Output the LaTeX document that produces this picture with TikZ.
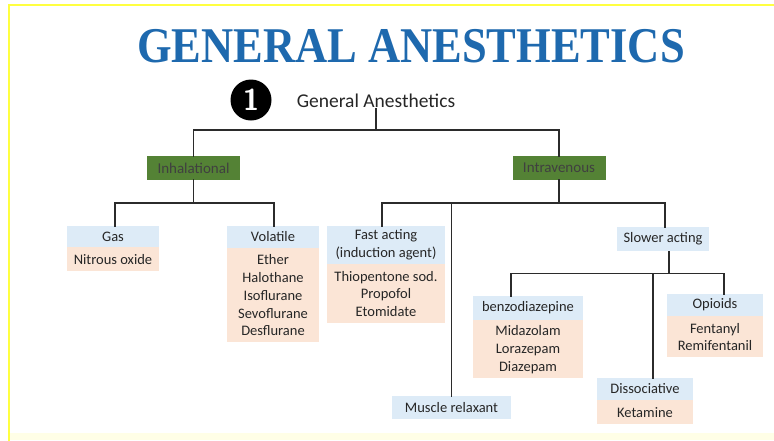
\documentclass[tikz,border=0pt]{standalone}
\usepackage{fontspec}
\setmainfont{Carlito}
\newfontfamily\titlefont{Liberation Serif}
\usetikzlibrary{positioning,calc}

\definecolor{titleBlue}{HTML}{1E69AE}
\definecolor{hdBlue}{HTML}{DDEBF7}
\definecolor{lstPeach}{HTML}{FBE5D6}
\definecolor{grnFill}{HTML}{548235}
\definecolor{lineGrey}{HTML}{2B2B2B}
\definecolor{txtGrey}{HTML}{262626}
\definecolor{frameYellow}{HTML}{FFFF40}

\begin{document}
\begin{tikzpicture}[
		x=1pt,
		y=-1pt,
		line cap=rect,
		line join=miter,
		box/.style={inner sep=0pt, align=center, text=txtGrey,
			font=\fontsize{14.5}{17.75}\selectfont},
		hd/.style={box, fill=hdBlue},
		lst/.style={box, fill=lstPeach},
		grn/.style={box, fill=grnFill, text=black!75,
			font=\fontsize{15}{18}\selectfont,
			minimum width=93pt, minimum height=23.5pt},
		link/.style={draw=lineGrey, line width=1.4pt}
		]
		
		%------------------------------------------------------------------
		% Page and frame
		%------------------------------------------------------------------
		\useasboundingbox (0,0) rectangle (774,440);
		\fill[white] (0,0) rectangle (774,440);
		\fill[yellow!10] (9,433) rectangle (774,440);
		\draw[frameYellow, line width=2.6pt] (9,440) -- (9,5) -- (774,5);
		
		%------------------------------------------------------------------
		% Title and root
		%------------------------------------------------------------------
		\node[text=titleBlue, font=\titlefont\bfseries\fontsize{50}{52}\selectfont]
		(title) at (411,46) {\scalebox{0.89}[1]{GENERAL ANESTHETICS}};
		
		\node[circle, fill=black, minimum size=41pt, inner sep=0pt,
		text=white, font=\sffamily\bfseries\fontsize{30}{30}\selectfont]
		(one) at (251,100) {1};
		
		\node[text=txtGrey, font=\fontsize{19.5}{22}\selectfont, inner sep=1pt]
		(root) at (376,101) {General Anesthetics};
		
		\coordinate (rootBus) at (376,130);
		
		%------------------------------------------------------------------
		% Routes
		%------------------------------------------------------------------
		\node[grn] (inh) at (193.5,168) {Inhalational};
		\node[grn] (iv)  at (559,168)   {Intravenous};
		
		%------------------------------------------------------------------
		% Inhalational agents
		%------------------------------------------------------------------
		\node[hd, minimum width=92pt, minimum height=21pt] (gas) at (113,236.5) {Gas};
		\node[lst, minimum width=92pt, minimum height=24pt, below=0pt of gas]
		(gasList) {Nitrous oxide};
		
		\node[hd, minimum width=92pt, minimum height=22pt] (vol) at (273,237) {Volatile};
		\node[lst, minimum width=92pt, minimum height=94pt, below=0pt of vol]
		(volList) {Ether\\Halothane\\Isoflurane\\Sevoflurane\\Desflurane};
		
		%------------------------------------------------------------------
		% Intravenous agents
		%------------------------------------------------------------------
		\node[hd, minimum width=118pt, minimum height=38pt] (fast) at (386,245)
		{Fast acting\\(induction agent)};
		\node[lst, minimum width=118pt, minimum height=59pt, below=0pt of fast]
		(fastList) {Thiopentone sod.\\Propofol\\Etomidate};
		
		\node[hd, minimum width=119pt, minimum height=23pt] (musc) at (451.5,407.5)
		{Muscle relaxant};
		
		\node[hd, minimum width=92pt, minimum height=24pt] (slow) at (663,239)
		{Slower acting};
		
		\node[hd, minimum width=110pt, minimum height=24pt] (benzo) at (528,308)
		{benzodiazepine};
		\node[lst, minimum width=110pt, minimum height=58pt, below=0pt of benzo]
		(benzoList) {Midazolam\\Lorazepam\\Diazepam};
		
		\node[hd, minimum width=96pt, minimum height=22pt] (diss) at (645,389)
		{Dissociative};
		\node[lst, minimum width=96pt, minimum height=24pt, below=0pt of diss]
		(dissList) {Ketamine};
		
		\node[hd, minimum width=96pt, minimum height=22pt] (opi) at (715,305)
		{Opioids};
		\node[lst, minimum width=96pt, minimum height=41pt, below=0pt of opi]
		(opiList) {Fentanyl\\Remifentanil};
		
		%------------------------------------------------------------------
		% Connectors
		%------------------------------------------------------------------
		\draw[link] (root.south) -- (rootBus);
		\draw[link] (inh.north) |- (rootBus) -| (iv.north);
		
		\draw[link] (inh.south) -- ++(0,23) coordinate (inhBus);
		\draw[link] ([xshift=2pt]gas.north) |- (inhBus) -| ([xshift=1pt]vol.north);
		
		\draw[link] (iv.south) -- ++(0,23) coordinate (ivBus);
		\draw[link] ([xshift=-4pt]fast.north) |- (ivBus) -| ([xshift=2pt]slow.north);
		\draw[link] (musc.north) -- (musc.north |- ivBus);
		
		\draw[link] ([xshift=6pt]slow.south) -- ++(0,22) coordinate (slowBus);
		\draw[link] ([xshift=-17pt]benzo.north) |- (slowBus) -| ([xshift=9pt]opi.north);
		\draw[link] ([xshift=8pt]diss.north) -- ([xshift=8pt]diss.north |- slowBus);
		
	\end{tikzpicture}
\end{document}
